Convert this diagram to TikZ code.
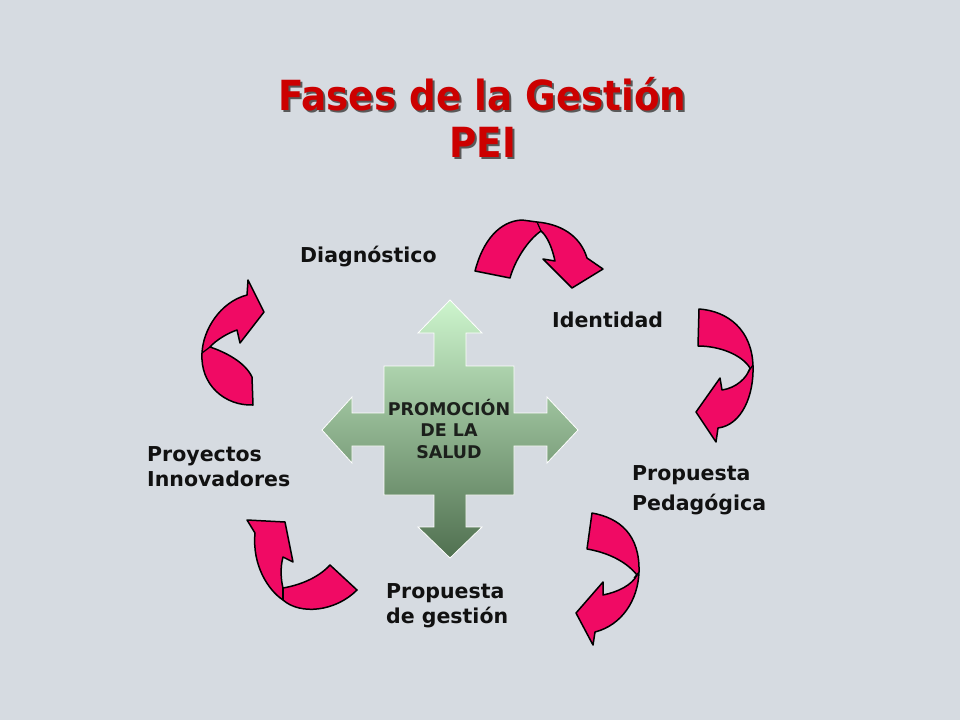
\documentclass[tikz,border=0pt]{standalone}
\usepackage{fontspec}
\setmainfont{DejaVu Sans}
\newfontfamily\titlefont{DejaVu Sans Condensed}[BoldFont={* Bold}]
\definecolor{bgcol}{RGB}{214,219,225}
\definecolor{pinkcol}{RGB}{240,10,100}
\definecolor{titlered}{RGB}{204,0,0}
\definecolor{labelcol}{RGB}{17,17,17}
\definecolor{greentop}{RGB}{205,245,205}
\definecolor{greenbot}{RGB}{80,112,80}
\newcommand{\shadowtext}[1]{\rlap{\hspace{2pt}\raisebox{-2pt}{\color{black!65}#1}}#1}
\tikzset{
  ribbon/.style={fill=pinkcol, draw=black, line width=1.5pt, line join=round},
  foldline/.style={draw=black, line width=1.2pt},
  phase/.style={anchor=base west, inner sep=0pt, text=labelcol, align=left,
    font=\bfseries\fontsize{20.5}{25}\selectfont},
  titletext/.style={anchor=base, inner sep=0pt, text=titlered, font=\titlefont\bfseries\fontsize{41.5}{48}\selectfont},
}
\begin{document}
\begin{tikzpicture}[x=1pt,y=-1pt]
\fill[bgcol] (0,0) rectangle (960,720);
\useasboundingbox (0,0) rectangle (960,720);

% title
\node[titletext] (titleA) at (482.5,110) {\shadowtext{Fases de la Gestión}};
\node[titletext] (titleB) at (483,157) {\shadowtext{PEI}};

% central cross
\path[draw=white, line width=0.8pt, top color=greentop, bottom color=greenbot]
 (450,300) -- (482,333) -- (466,333) -- (466,366) -- (514,366) -- (514,413) -- (547,413) -- (547,397) -- (578,430) -- (547,463) -- (547,446) -- (514,446) -- (514,495) -- (466,495) -- (466,527) -- (482,527) -- (450,558) -- (418,527) -- (434,527) -- (434,495) -- (384,495) -- (384,446) -- (352,446) -- (352,463) -- (322,430) -- (352,397) -- (352,413) -- (384,413) -- (384,366) -- (434,366) -- (434,333) -- (418,333) -- cycle;
\node[anchor=base, inner sep=0pt, align=center, text={rgb,255:red,28;green,32;blue,28}, font=\bfseries\fontsize{17.5}{21.5}\selectfont] (center) at (449,458) {PROMOCIÓN\\DE LA\\SALUD};

% labels
\node[phase] (diag) at (300,262) {Diagnóstico};
\node[phase] (ident) at (552,327) {Identidad};
\node[phase, font=\bfseries\fontsize{20.5}{30}\selectfont] (peda) at (632,510) {Propuesta\\Pedagógica};
\node[phase] (gest) at (386,623) {Propuesta\\de gestión};
\node[phase] (proy) at (147,486) {Proyectos\\Innovadores};

% arrow 1 (top)
\path[ribbon] (475,271) .. controls (483,240) and (500,221) .. (522,220) -- (537,222)
  .. controls (560,224) and (580,235) .. (587,258) -- (603,269) -- (572,288) -- (543,259) -- (555,261)
  .. controls (552,247) and (547,236) .. (541,231)
  .. controls (528,240) and (515,260) .. (510,278) -- cycle;
\draw[foldline] (537,222) -- (541,231);

% arrow 2 (right)
\path[ribbon] (699,309) .. controls (728,311) and (752,330) .. (753,366)
  .. controls (754,395) and (742,425) .. (718,428) -- (716,442) -- (696,412) -- (720,378) -- (722,390)
  .. controls (736,388) and (747,378) .. (750,368)
  .. controls (742,355) and (720,346) .. (698,346) -- cycle;
\draw[foldline] (753,365) -- (748,372);

% arrow 3 (bottom right)
\path[ribbon] (592,513) .. controls (620,518) and (640,535) .. (639,572)
  .. controls (638,600) and (622,625) .. (595,632) -- (593,645) -- (576,613) -- (603,582) -- (603,595)
  .. controls (618,592) and (632,585) .. (637,575)
  .. controls (625,560) and (605,552) .. (587,549) -- cycle;
\draw[foldline] (639,572) -- (634,578);

% arrow 4 (bottom left)
\path[ribbon] (255,533) -- (247,520) -- (285,522) -- (293,562) -- (283,557)
  .. controls (280,568) and (281,580) .. (283,588)
  .. controls (300,585) and (318,578) .. (330,565) -- (357,590)
  .. controls (335,612) and (300,615) .. (283,600)
  .. controls (268,590) and (252,565) .. (255,533) -- cycle;
\draw[foldline] (283,588) -- (283,600);

% arrow 5 (left)
\path[ribbon] (247,295) -- (248,280) -- (264,312) -- (240,343) -- (237,330)
  .. controls (228,333) and (216,340) .. (210,347)
  .. controls (225,352) and (245,362) .. (252,377) -- (253,405)
  .. controls (225,406) and (200,385) .. (202,353)
  .. controls (203,330) and (220,302) .. (247,295) -- cycle;
\draw[foldline] (202,353) -- (210,347);
\end{tikzpicture}
\end{document}
